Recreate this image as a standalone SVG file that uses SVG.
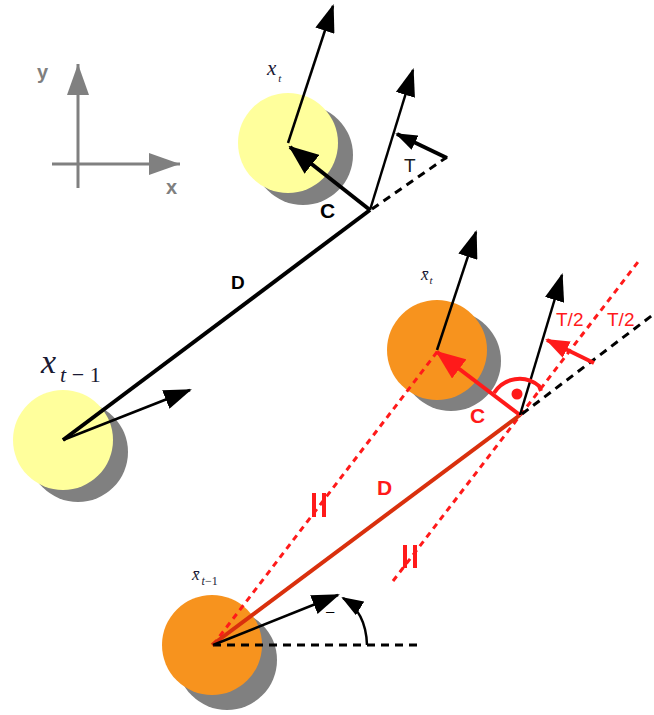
<svg xmlns="http://www.w3.org/2000/svg" width="654" height="715" viewBox="0 0 654 715">
<style>
.shadow{fill:#808080}
.yel{fill:#ffff9c}
.org{fill:#f7931e}
.blk{stroke:#000;fill:none;stroke-width:2.5}
.blkT{stroke:#000;fill:none;stroke-width:4}
.dashB{stroke:#000;fill:none;stroke-width:3;stroke-dasharray:8 6}
.dotR{stroke:#ff1a1a;fill:none;stroke-width:3;stroke-dasharray:6 5}
.red{stroke:#ff1a1a;fill:none;stroke-width:4}
.axis{stroke:#808080;stroke-width:3;fill:none}
.lbl{font-family:"Liberation Sans",Arial,sans-serif}
.math{font-family:"Liberation Serif","Times New Roman",serif;font-style:italic;fill:#1a1a33}
.up{font-style:normal}
</style>
<defs>
<marker id="aB" markerUnits="userSpaceOnUse" markerWidth="28" markerHeight="20" refX="26" refY="10" orient="auto"><path d="M0,0 L28,10 L0,20 z" fill="#000"/></marker>
<marker id="aBc" markerUnits="userSpaceOnUse" markerWidth="30" markerHeight="24" refX="28" refY="12" orient="auto"><path d="M0,0 L30,12 L0,24 z" fill="#000"/></marker>
<marker id="aBs" markerUnits="userSpaceOnUse" markerWidth="22" markerHeight="16" refX="20" refY="8" orient="auto"><path d="M0,0 L22,8 L0,16 z" fill="#000"/></marker>
<marker id="aR" markerUnits="userSpaceOnUse" markerWidth="30" markerHeight="24" refX="28" refY="12" orient="auto"><path d="M0,0 L30,12 L0,24 z" fill="#ff1a1a"/></marker>
<marker id="aRs" markerUnits="userSpaceOnUse" markerWidth="24" markerHeight="18" refX="22" refY="9" orient="auto"><path d="M0,0 L24,9 L0,18 z" fill="#ff1a1a"/></marker>
<marker id="aG" markerUnits="userSpaceOnUse" markerWidth="31" markerHeight="22" refX="31" refY="11" orient="auto"><path d="M0,0 L31,11 L0,22 z" fill="#808080"/></marker>
</defs>

<g id="axes">
<line class="axis" x1="78" y1="188" x2="78" y2="64" marker-end="url(#aG)"/>
<line class="axis" x1="52" y1="164" x2="180" y2="164" marker-end="url(#aG)"/>
<text class="lbl" x="37" y="79" font-size="20" font-weight="bold" fill="#7f7f7f">y</text>
<text class="lbl" x="166" y="194" font-size="20" font-weight="bold" fill="#7f7f7f">x</text>
</g>

<g id="node-xt">
<circle class="shadow" cx="303" cy="155" r="50"/>
<circle class="yel" cx="288" cy="143" r="50"/>
<text class="math" x="267" y="75" font-size="21">x<tspan font-size="11" dy="7" dx="2">t</tspan></text>
</g>

<g id="node-xt1">
<circle class="shadow" cx="78" cy="452" r="50"/>
<circle class="yel" cx="63" cy="440" r="50"/>
<text class="math" x="41" y="373" font-size="34">x<tspan font-size="22" dy="9" dx="4">t</tspan><tspan class="up" font-size="22"> − 1</tspan></text>
</g>

<g id="node-xbt">
<circle class="shadow" cx="451" cy="361" r="50"/>
<circle class="org" cx="437" cy="350" r="50"/>
<text class="math" x="421" y="280" font-size="17">x&#x0304;<tspan font-size="11" dy="4" dx="1">t</tspan></text>
</g>

<g id="node-xbt1">
<circle class="shadow" cx="227" cy="660" r="50"/>
<circle class="org" cx="212" cy="645" r="50"/>
<text class="math" x="192" y="580" font-size="17">x&#x0304;<tspan font-size="12" dy="5" dx="2">t</tspan><tspan class="up" font-size="12">−1</tspan></text>
</g>

<g id="connectors">
<!-- top scene -->
<line class="blkT" x1="63" y1="440" x2="370" y2="210"/>
<line class="blk" x1="63" y1="440" x2="190" y2="390" marker-end="url(#aB)"/>
<line class="blk" x1="288" y1="143" x2="333" y2="6" marker-end="url(#aB)"/>
<line class="blkT" x1="370" y1="210" x2="290" y2="147" marker-end="url(#aBc)"/>
<line class="blk" x1="370" y1="210" x2="413" y2="70" marker-end="url(#aB)"/>
<line class="dashB" x1="372" y1="209" x2="447" y2="157"/>
<line class="blkT" x1="447" y1="158" x2="397" y2="134" marker-end="url(#aBs)"/>
<text class="lbl" x="231" y="289" font-size="19" font-weight="bold">D</text>
<text class="lbl" x="320" y="218" font-size="21" font-weight="bold">C</text>
<text class="lbl" x="404" y="172" font-size="19" fill="#1a1a1a">T</text>

<!-- bottom scene -->
<line class="dotR" x1="213" y1="645" x2="437" y2="352"/>
<line class="dotR" x1="393" y1="581" x2="638" y2="262"/>
<line class="dashB" x1="213" y1="645" x2="418" y2="645"/>
<line class="dashB" x1="522" y1="414" x2="654" y2="314"/>
<line stroke="#d9300d" stroke-width="4" x1="212" y1="645" x2="520" y2="415"/>
<line class="blk" x1="213" y1="645" x2="338" y2="595" marker-end="url(#aB)"/>
<path class="blk" d="M367 645 Q366 612 343 598" marker-end="url(#aBs)"/>
<text class="lbl" x="326" y="616" font-size="15">–</text>
<line class="blk" x1="437" y1="350" x2="476" y2="232" marker-end="url(#aB)"/>
<line class="red" x1="520" y1="415" x2="437" y2="352" marker-end="url(#aR)"/>
<line class="blk" x1="520" y1="415" x2="562" y2="275" marker-end="url(#aB)"/>
<line class="red" x1="594" y1="363" x2="547" y2="340" marker-end="url(#aRs)"/>
<path class="red" stroke-width="3.5" d="M494 393 A30 30 0 0 1 539 386 L541 391"/>
<circle cx="517" cy="394" r="5.5" fill="#ff1a1a"/>
<line class="red" stroke-width="3" x1="314" y1="493" x2="314" y2="517"/>
<line class="red" stroke-width="3" x1="324" y1="493" x2="324" y2="517"/>
<line class="red" stroke-width="3" x1="405" y1="545" x2="405" y2="568"/>
<line class="red" stroke-width="3" x1="415" y1="545" x2="415" y2="568"/>
<text class="lbl" x="470" y="423" font-size="21" font-weight="bold" fill="#ff1a1a">C</text>
<text class="lbl" x="377" y="495" font-size="21" font-weight="bold" fill="#ff1a1a">D</text>
<text class="lbl" x="556" y="326" font-size="19" fill="#ff1a1a">T/2</text>
<text class="lbl" x="607" y="326" font-size="19" fill="#ff1a1a">T/2</text>
</g>
</svg>
